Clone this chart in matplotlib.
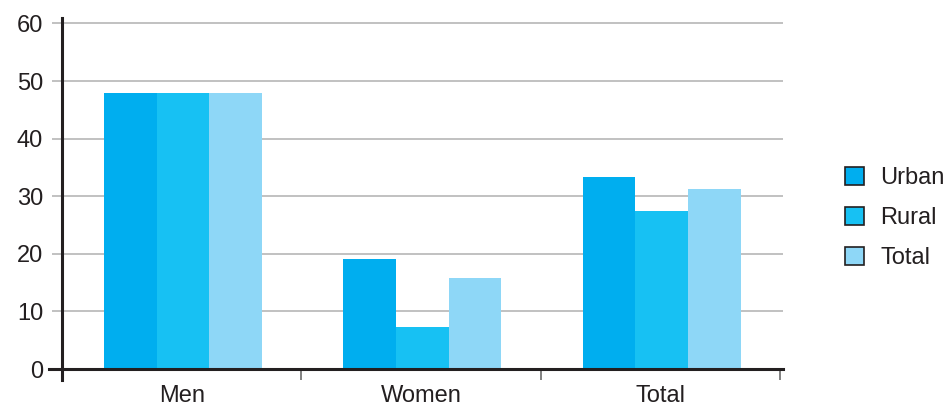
import matplotlib
matplotlib.use("Agg")
import matplotlib.pyplot as plt
import numpy as np
from matplotlib.lines import Line2D

plt.rcParams["font.family"] = ["Liberation Sans", "DejaVu Sans"]

categories = ["Men", "Women", "Total"]
series_names = ["Urban", "Rural", "Total"]
urban = [47.9, 19.1, 33.4]
rural = [47.9, 7.3, 27.5]
total = [47.9, 15.8, 31.3]
colors = ["#00aeef", "#17c1f3", "#8ed7f7"]
y_ticks = [0, 10, 20, 30, 40, 50, 60]

fig = plt.figure(figsize=(9.45, 4.08), dpi=100)
ax = fig.add_axes([62 / 945, 1 - 369 / 408, (783 - 62) / 945, (369 - 18) / 408])

x = np.arange(len(categories))
width = 0.22
for i, (vals, name, col) in enumerate(zip([urban, rural, total], series_names, colors)):
    ax.bar(x + (i - 1) * width + 0.006, vals, width, color=col, label=name,
           linewidth=0, zorder=2)

ax.set_xlim(-0.5, 2.5126)
ax.set_ylim(0, 60.95)

# gray gridlines, with the y ticks continuing them past the spine
ax.set_yticks(y_ticks)
ax.yaxis.grid(True, color="#b0b0b0", linewidth=1.1, zorder=0)
ax.tick_params(axis="y", length=7.5, width=1.1, color="#b0b0b0", pad=6,
               labelsize=17, labelcolor="#231f20")

# category separators as major ticks, names on minor ticks
ax.set_xticks([0.5, 1.5, 2.5])
ax.set_xticklabels([])
ax.set_xticks(x, minor=True)
ax.set_xticklabels(categories, minor=True)
ax.tick_params(axis="x", which="major", length=8, width=1.3, color="#777777")
ax.tick_params(axis="x", which="minor", length=0, pad=11.5, labelsize=17,
               labelcolor="#231f20")

for side in ["top", "right"]:
    ax.spines[side].set_visible(False)
for side in ["left", "bottom"]:
    ax.spines[side].set_color("#231f20")
    ax.spines[side].set_linewidth(2.2)
    ax.spines[side].set_zorder(3)

# spines run a little past the corner where they meet
tr = ax.transAxes
px_x = 1 / (783 - 62)
px_y = 1 / (369 - 18)
fig.add_artist(Line2D([0, 0], [0, -11 * px_y], transform=tr, color="#231f20",
                      linewidth=2.2, clip_on=False))
fig.add_artist(Line2D([-13 * px_x, 0], [0, 0], transform=tr, color="#231f20",
                      linewidth=2.2, clip_on=False))

handles = [plt.Rectangle((0, 0), 1, 1, facecolor=c, edgecolor="#231f20", linewidth=1.2)
           for c in colors]
fig.legend(handles, series_names, loc="center left",
           bbox_to_anchor=(845 / 945, 1 - 218 / 408), frameon=False, fontsize=17,
           handlelength=0.8, handleheight=0.8, handletextpad=0.7, labelspacing=0.76,
           borderpad=0, borderaxespad=0, labelcolor="#231f20")

fig.savefig("out.png", dpi=100)
